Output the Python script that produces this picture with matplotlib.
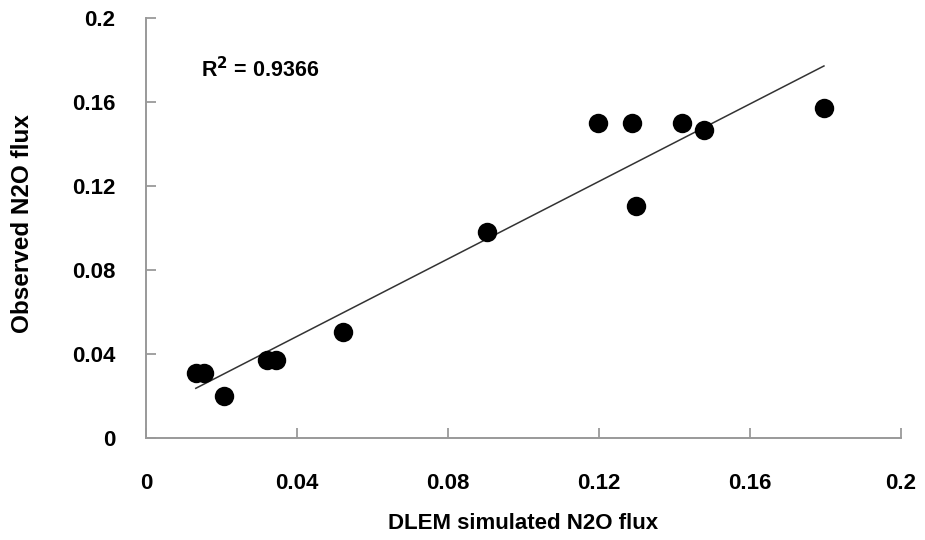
import numpy as np
import matplotlib.pyplot as plt

plt.rcParams['font.family'] = ['Liberation Sans', 'DejaVu Sans']
plt.rcParams['font.weight'] = 'bold'

# simulated vs observed N2O flux
simulated = [0.0132, 0.0154, 0.0207, 0.0320, 0.0344, 0.0522, 0.0903,
             0.1197, 0.1287, 0.1298, 0.1419, 0.1478, 0.1796]
observed = [0.0310, 0.0310, 0.0201, 0.0371, 0.0371, 0.0505, 0.0981,
            0.1499, 0.1499, 0.1106, 0.1499, 0.1467, 0.1573]
r2_text = "0.9366"
tick_vals = [0, 0.04, 0.08, 0.12, 0.16, 0.2]
tick_labels = ['0', '0.04', '0.08', '0.12', '0.16', '0.2']

x = np.array(simulated)
y = np.array(observed)

fig = plt.figure(figsize=(9.25, 5.4), dpi=100)
ax = fig.add_axes([0.1578, 0.1889, 0.8162, 0.7778])

ax.scatter(x, y, s=196, color='black', zorder=3, linewidths=0)

# linear trend line
k, b = np.polyfit(x, y, 1)
xs = np.array([x.min(), x.max()])
ax.plot(xs, k * xs + b, color='#333333', lw=1.1, zorder=2)

ax.text(0.0145, 0.1755, "R$^2$ = " + r2_text, fontsize=15.5, fontweight='bold', va='center')

ax.set_xlim(0, 0.2)
ax.set_ylim(0, 0.2)
ax.set_xticks(tick_vals)
ax.set_yticks(tick_vals)
ax.set_xticklabels(tick_labels)
ax.set_yticklabels(tick_labels)
ax.tick_params(direction='in', length=7, width=1.1, color='#888888', labelsize=16)
ax.tick_params(axis='x', pad=25)
ax.tick_params(axis='y', pad=22)

for side in ['top', 'right']:
    ax.spines[side].set_visible(False)
for side in ['left', 'bottom']:
    ax.spines[side].set_color('#999999')
    ax.spines[side].set_linewidth(1.4)

ax.set_xlabel("DLEM simulated N2O flux", fontsize=16, fontweight='bold')
ax.set_ylabel("Observed N2O flux", fontsize=17.5, fontweight='bold')
ax.xaxis.set_label_coords(0.5, -0.178)
ax.yaxis.set_label_coords(-0.148, 0.51)

fig.savefig('out.png', dpi=100)
